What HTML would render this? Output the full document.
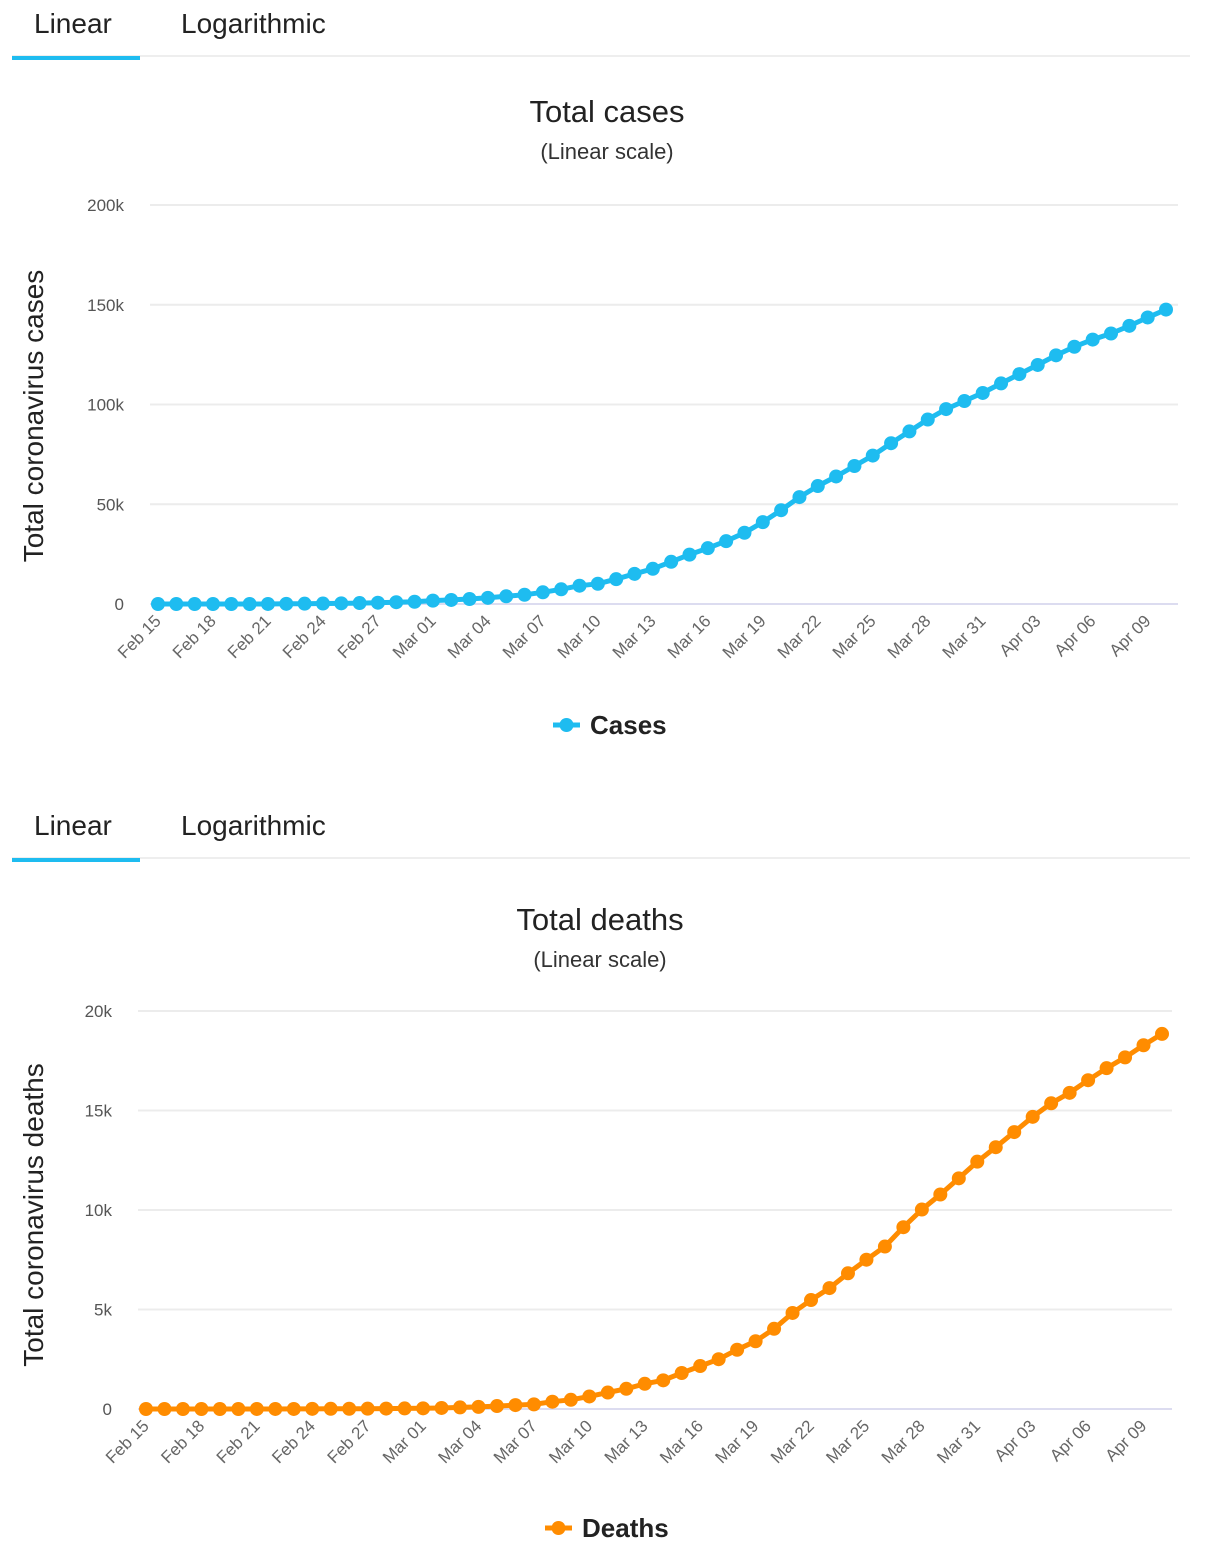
<!DOCTYPE html>
<html><head><meta charset="utf-8"><style>
body{margin:0;background:#fff;font-family:"Liberation Sans",sans-serif;}
svg{display:block}
</style></head><body>
<svg id="svg" width="1205" height="1550" font-family="Liberation Sans, sans-serif"></svg>
<script>
const dates=["Feb 15","Feb 16","Feb 17","Feb 18","Feb 19","Feb 20","Feb 21","Feb 22","Feb 23","Feb 24","Feb 25","Feb 26","Feb 27","Feb 28","Feb 29","Mar 01","Mar 02","Mar 03","Mar 04","Mar 05","Mar 06","Mar 07","Mar 08","Mar 09","Mar 10","Mar 11","Mar 12","Mar 13","Mar 14","Mar 15","Mar 16","Mar 17","Mar 18","Mar 19","Mar 20","Mar 21","Mar 22","Mar 23","Mar 24","Mar 25","Mar 26","Mar 27","Mar 28","Mar 29","Mar 30","Mar 31","Apr 01","Apr 02","Apr 03","Apr 04","Apr 05","Apr 06","Apr 07","Apr 08","Apr 09","Apr 10"];
const cases=[3,3,3,3,3,3,20,79,157,229,323,470,655,889,1128,1694,2036,2502,3089,3858,4636,5883,7375,9172,10149,12462,15113,17660,21157,24747,27980,31506,35713,41035,47021,53578,59138,63927,69176,74386,80589,86498,92472,97689,101739,105792,110574,115242,119827,124632,128948,132547,135586,139422,143626,147577];
const deaths=[0,0,0,0,0,0,1,2,3,7,10,12,17,21,29,34,52,79,107,148,197,233,366,463,631,827,1016,1266,1441,1809,2158,2503,2978,3405,4032,4825,5476,6077,6820,7503,8165,9134,10023,10779,11591,12428,13155,13915,14681,15362,15887,16523,17127,17669,18279,18849];
const casesTicks=[0,50000,100000,150000,200000];
const casesTickLabels=["0","50k","100k","150k","200k"];
const deathsTicks=[0,5000,10000,15000,20000];
const deathsTickLabels=["0","5k","10k","15k","20k"];

const NS="http://www.w3.org/2000/svg";
const svg=document.getElementById('svg');
function el(tag,attrs,parent,text){const e=document.createElementNS(NS,tag);for(const k in attrs)e.setAttribute(k,attrs[k]);if(text!==undefined)e.textContent=text;(parent||svg).appendChild(e);return e;}

function tabs(y0){
  const g=el('g',{});
  
  
  el('line',{x1:12,x2:1190,y1:y0+33,y2:y0+33,stroke:'#eeeeee','stroke-width':2},g);
  const t1=el('text',{x:34,y:y0+10,'font-size':28,fill:'#222'},g,'Linear');
  
  
  const t2=el('text',{x:181,y:y0+10,'font-size':28,fill:'#222'},g,'Logarithmic');
  
  
  const u=el('rect',{x:12,y:y0+33,width:128,height:4,fill:'#1ebcf0'},g);
  
  
}

function chart(o){
  const g=el('g',{});
  
  
  const n=o.dates.length;
  const xs=i=>o.x0+(o.x1-o.x0)*i/(n-1);
  const ys=v=>o.y0+(o.yTop-o.y0)*v/o.yMax;
  const tt=el('text',{x:o.tx,y:o.ty,'font-size':31,'text-anchor':'middle',fill:'#222'},g,o.title);
  
  
  const st=el('text',{x:o.tx,y:o.ty+37,'font-size':22,'text-anchor':'middle',fill:'#333'},g,'(Linear scale)');
  
  
  o.ticks.forEach((t,i)=>{
    const y=ys(t);
    const gl=el('line',{x1:o.gx0,x2:o.gx1,y1:y,y2:y,stroke:i==0?'#dcdcf0':'#ececec','stroke-width':2},g);
    
    
    const tl=el('text',{x:o.lx,y:y+6,'font-size':17,'text-anchor':'end',fill:'#555'},g,o.tickLabels[i]);
    
    
  });
  const yt=el('text',{x:0,y:0,'font-size':28,'text-anchor':'middle',fill:'#222',transform:`translate(43,${o.ytY}) rotate(-90)`},g,o.yTitle);
  
  
  for(let i=0;i<n;i+=3){
    const x=xs(i);
    const xl=el('text',{x:0,y:0,'font-size':17,'text-anchor':'end',fill:'#666',transform:`translate(${x+4},${o.y0+18}) rotate(-45)`},g,o.dates[i]);
    
    
  }
  const pts=o.values.map((v,i)=>xs(i).toFixed(1)+','+ys(v).toFixed(1)).join(' ');
  const line=el('polyline',{points:pts,fill:'none',stroke:o.color,'stroke-width':5,'stroke-linejoin':'round'},g);
  
  
  o.values.forEach((v,i)=>{
    const c=el('circle',{cx:xs(i),cy:ys(v),r:7,fill:o.color},g);
    
    
  });
  const lg=el('g',{},g);
  
  
  el('line',{x1:o.lgx,x2:o.lgx+27,y1:o.lgy,y2:o.lgy,stroke:o.color,'stroke-width':5},lg);
  el('circle',{cx:o.lgx+13.5,cy:o.lgy,r:7,fill:o.color},lg);
  el('text',{x:o.lgx+37,y:o.lgy+9,'font-size':26,'font-weight':'bold',fill:'#222'},lg,o.legend);
}
tabs(23);
chart({name:'total-cases-chart',title:'Total cases',dates,values:cases,ticks:casesTicks,tickLabels:casesTickLabels,yMax:200000,x0:158,x1:1166,y0:604,yTop:205,gx0:150,gx1:1178,lx:124,tx:607,ty:122,yTitle:'Total coronavirus cases',ytY:416,color:'#1ebcf0',legend:'Cases',lgx:553,lgy:725});
tabs(825);
chart({name:'total-deaths-chart',title:'Total deaths',dates,values:deaths,ticks:deathsTicks,tickLabels:deathsTickLabels,yMax:20000,x0:146,x1:1162,y0:1409,yTop:1011,gx0:138,gx1:1172,lx:112,tx:600,ty:930,yTitle:'Total coronavirus deaths',ytY:1215,color:'#ff8c00',legend:'Deaths',lgx:545,lgy:1528});
</script>
</body></html>
